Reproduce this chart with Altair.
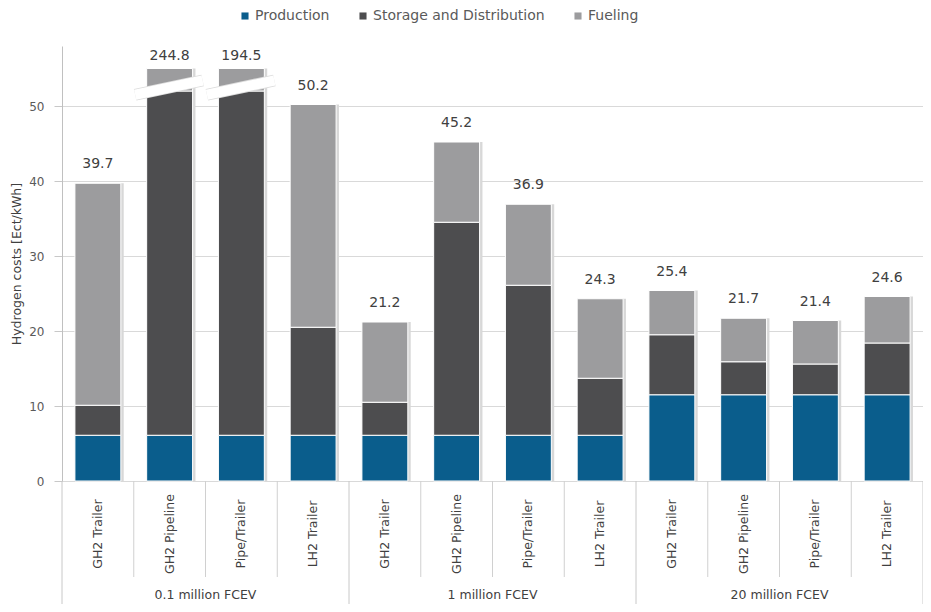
import altair as alt
import pandas as pd

# ---------------- data ----------------
categories = ["GH2 Trailer", "GH2 Pipeline", "Pipe/Trailer", "LH2 Trailer"] * 3
groups = ["0.1 million FCEV", "1 million FCEV", "20 million FCEV"]
series = ["Production", "Storage and Distribution", "Fueling"]
production = [6.1, 6.1, 6.1, 6.1, 6.1, 6.1, 6.1, 6.1, 11.5, 11.5, 11.5, 11.5]
storage = [4.0, 209.1, 158.8, 14.4, 4.4, 28.4, 20.0, 7.6, 8.0, 4.4, 4.1, 6.9]
fueling = [29.6, 29.6, 29.6, 29.7, 10.7, 10.7, 10.8, 10.6, 5.9, 5.8, 5.8, 6.2]
totals = [39.7, 244.8, 194.5, 50.2, 21.2, 45.2, 36.9, 24.3, 25.4, 21.7, 21.4, 24.6]
y_ticks = [0, 10, 20, 30, 40, 50]

colors = ["#0a5d8c", "#4d4d4f", "#9c9c9e"]
FONT = "DejaVu Sans"
BREAK_LOW = 52.0   # where the broken bars are cut
AXIS_CAP = 55.0    # drawn top of the broken bars
BAR_L, BAR_R = 0.18, 0.82

# ---------------- tables ----------------
seg_rows, top_rows, break_rows = [], [], []
for i in range(len(categories)):
    p, s, f = production[i], storage[i], fueling[i]
    s_top, t = p + s, p + s + f
    broken = t > AXIS_CAP
    s_disp = min(s_top, BREAK_LOW) if broken else s_top
    t_disp = AXIS_CAP if broken else t
    for name, a, b in zip(series, [0, p, s_disp], [p, s_disp, t_disp]):
        seg_rows.append(dict(x0=i + BAR_L, x1=i + BAR_R, y0=a, y1=b, series=name))
    top_rows.append(dict(xc=i + 0.5, top=t_disp, label=f"{totals[i]:.1f}",
                         broken=broken, sx0=i + BAR_R, sx1=i + BAR_R + 0.04))
    if broken:
        break_rows.append(dict(bx0=i + 0.02, bx1=i + 0.96, by0=BREAK_LOW - 0.5, by1=BREAK_LOW + 1.4))

seg = pd.DataFrame(seg_rows)
tops = pd.DataFrame(top_rows)
breaks = pd.DataFrame(break_rows)
cat_df = pd.DataFrame(dict(xc=[i + 0.5 for i in range(12)], label=categories, y=[-7.07] * 12))
grp_df = pd.DataFrame(dict(xc=[2, 6, 10], label=groups, y=[-15.2] * 3))
sep_small = pd.DataFrame(dict(x=[1, 2, 3, 5, 6, 7, 9, 10, 11], y=[0] * 9, y2=[-12.8] * 9))
sep_big = pd.DataFrame(dict(x=[0, 4, 8, 12], y=[0] * 4, y2=[-18.0] * 4))

xscale = alt.Scale(domain=[0, 12], nice=False, zero=False)
yscale = alt.Scale(domain=[0, 58], nice=False)

shadow = alt.Chart(tops).mark_rect(color="#d8d8d8").encode(
    x=alt.X("sx0:Q", scale=xscale, axis=None), x2="sx1:Q",
    y=alt.Y("top:Q", scale=yscale), y2=alt.datum(0),
)

bars = alt.Chart(seg).mark_rect(stroke="white", strokeWidth=1).encode(
    x=alt.X("x0:Q", scale=xscale, axis=None), x2="x1:Q",
    y=alt.Y("y0:Q", scale=yscale, title="Hydrogen costs [Ect/kWh]",
            axis=alt.Axis(values=y_ticks, grid=True, gridColor="#d9d9d9", tickColor="#c8c8c8",
                          domainColor="#c0c0c0", tickSize=8, labelPadding=10, titlePadding=5)),
    y2="y1:Q",
    color=alt.Color("series:N", scale=alt.Scale(domain=series, range=colors),
                    legend=alt.Legend(title=None, orient="none", direction="horizontal",
                                      legendX=176, legendY=-37, symbolType="square",
                                      symbolSize=50, symbolStrokeWidth=0, labelFontSize=14,
                                      labelColor="#5a5a5a", labelFont=FONT, columnPadding=26,
                                      labelOffset=3, labelLimit=0)),
)

brk_edge = alt.Chart(breaks).mark_rule(color="#dcdcdc", strokeWidth=12, strokeCap="butt").encode(
    x=alt.X("bx0:Q", scale=xscale), x2="bx1:Q", y=alt.Y("by0:Q", scale=yscale), y2="by1:Q")
brk = alt.Chart(breaks).mark_rule(color="white", strokeWidth=10, strokeCap="butt").encode(
    x=alt.X("bx0:Q", scale=xscale), x2="bx1:Q", y=alt.Y("by0:Q", scale=yscale), y2="by1:Q")

lbl_normal = alt.Chart(tops).transform_filter("!datum.broken").mark_text(
    font=FONT, fontSize=14, color="#404040", baseline="middle", dy=-19).encode(
    x=alt.X("xc:Q", scale=xscale), y=alt.Y("top:Q", scale=yscale), text="label:N")
lbl_broken = alt.Chart(tops).transform_filter("datum.broken").mark_text(
    font=FONT, fontSize=14, color="#404040", baseline="middle", dy=-13).encode(
    x=alt.X("xc:Q", scale=xscale), y=alt.Y("top:Q", scale=yscale), text="label:N")

r_small = alt.Chart(sep_small).mark_rule(color="#d0d0d0", strokeWidth=1).encode(
    x=alt.X("x:Q", scale=xscale), y=alt.Y("y:Q", scale=yscale), y2="y2:Q")
r_big = alt.Chart(sep_big).mark_rule(color="#c8c8c8", strokeWidth=1).encode(
    x=alt.X("x:Q", scale=xscale), y=alt.Y("y:Q", scale=yscale), y2="y2:Q")

cat_text = alt.Chart(cat_df).mark_text(
    font=FONT, fontSize=12.5, color="#404040", angle=270, align="center", baseline="middle").encode(
    x=alt.X("xc:Q", scale=xscale), y=alt.Y("y:Q", scale=yscale), text="label:N")
grp_text = alt.Chart(grp_df).mark_text(
    font=FONT, fontSize=12.5, color="#404040", align="center", baseline="middle").encode(
    x=alt.X("xc:Q", scale=xscale), y=alt.Y("y:Q", scale=yscale), text="label:N")

chart = alt.layer(
    shadow, bars, brk_edge, brk, lbl_normal, lbl_broken, r_small, r_big, cat_text, grp_text
).properties(
    width=861, height=435,
    autosize=alt.AutoSizeParams(type="none"),
    padding={"left": 54, "top": 38, "right": 0, "bottom": 123},
).configure_view(stroke=None).configure_axis(
    labelFont=FONT, labelFontSize=12, labelColor="#5a5a5a",
    titleFont=FONT, titleFontSize=12.5, titleColor="#404040", titleFontWeight="normal",
)

chart.save("out.html", embed_options={"renderer": "svg", "actions": False})
